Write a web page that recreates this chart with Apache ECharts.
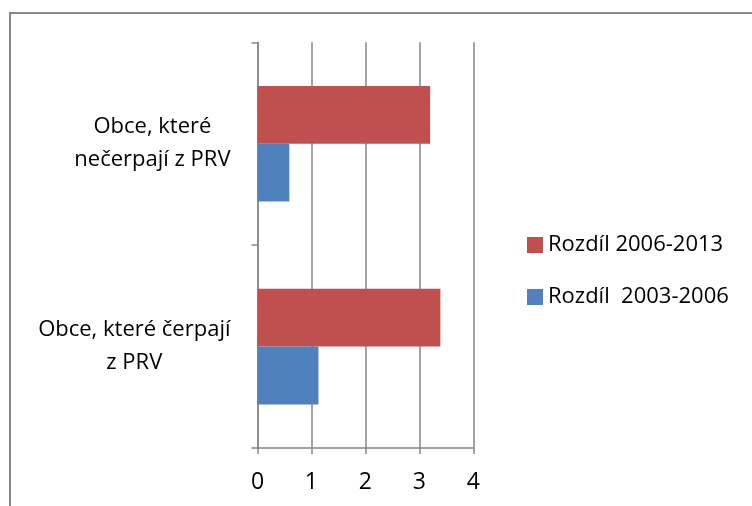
<!DOCTYPE html>
<html>
<head>
<meta charset="utf-8">
<script src="https://cdn.jsdelivr.net/npm/echarts@6/dist/echarts.min.js"></script>
<style>
  html, body { margin: 0; padding: 0; background: #fff; }
  #wrap { position: relative; width: 752px; height: 506px; overflow: hidden; }
  #frame { position: absolute; left: 9px; top: 12px; width: 800px; height: 600px; border: 2px solid #878787; }
  #main { position: absolute; left: 0; top: 0; width: 752px; height: 506px; }
</style>
</head>
<body>
<div id="wrap">
  <div id="frame"></div>
  <div id="main"></div>
</div>
<script>
const categories = ['Obce, které čerpají z PRV', 'Obce, které nečerpají z PRV']
const categoryLines = [['Obce, které čerpají', 'z PRV'], ['Obce, které', 'nečerpají z PRV']]
const rozdil0613 = [3.39, 3.2]
const rozdil0306 = [1.13, 0.59]
const xTicks = [0, 1, 2, 3, 4]

const font = "'Open Sans', 'Liberation Sans', sans-serif"
const gray = '#868686'

const chart = echarts.init(document.getElementById('main'))
const option = {
    animation: false,
    textStyle: { fontFamily: font, color: '#000' },
    grid: { left: 257.5, right: 278.7, top: 42.3, bottom: 58, containLabel: false },
    legend: {
        orient: 'vertical',
        left: 522,
        top: 229,
        itemWidth: 16,
        itemHeight: 16,
        itemGap: 30,
        icon: 'rect',
        data: ['Rozdíl 2006-2013', 'Rozdíl  2003-2006'],
        textStyle: { fontFamily: font, fontSize: 22, lineHeight: 20, color: '#000' }
    },
    xAxis: {
        type: 'value',
        min: xTicks[0],
        max: xTicks[xTicks.length - 1],
        interval: 1,
        axisLine: { show: true, lineStyle: { color: gray, width: 1.5 } },
        axisTick: { show: true, length: 6, lineStyle: { color: gray, width: 1.5 } },
        axisLabel: { fontSize: 23, margin: 23, color: '#000', fontFamily: font },
        splitLine: { show: true, lineStyle: { color: gray, width: 1.5 } }
    },
    yAxis: {
        type: 'category',
        data: categories,
        axisLine: { show: true, lineStyle: { color: gray, width: 1.5 } },
        axisTick: { show: true, length: 6, alignWithLabel: false, lineStyle: { color: gray, width: 1.5 } },
        axisLabel: {
            margin: 27,
            align: 'right',
            fontSize: 22,
            lineHeight: 33,
            fontFamily: font,
            color: '#000',
            formatter: (val, idx) => categoryLines[idx].map(s => '{c|' + s + '}').join('\n'),
            rich: { c: { align: 'center', fontSize: 22, lineHeight: 33, fontFamily: font, color: '#000' } }
        },
        splitLine: { show: false }
    },
    series: [
        {
            name: 'Rozdíl 2006-2013',
            type: 'bar',
            data: rozdil0613,
            itemStyle: { color: '#c0504d' },
            barGap: '0%',
            barCategoryGap: '43%'
        },
        {
            name: 'Rozdíl  2003-2006',
            type: 'bar',
            data: rozdil0306,
            itemStyle: { color: '#4f81bd' },
            barGap: '0%',
            barCategoryGap: '43%'
        }
    ]
}
chart.setOption(option)
</script>
</body>
</html>
